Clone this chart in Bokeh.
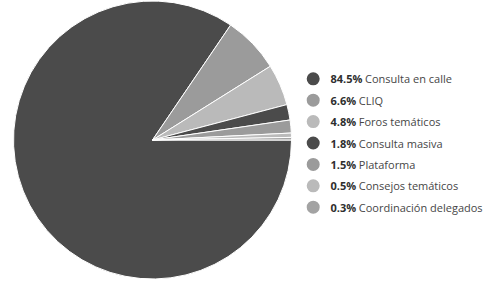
import math
from bokeh.plotting import figure
from bokeh.models import ColumnDataSource, Range1d
from bokeh.core.properties import value
from bokeh.embed import file_html
from bokeh.resources import INLINE

labels = ["Consulta en calle", "CLIQ", "Foros temáticos", "Consulta masiva",
          "Plataforma", "Consejos temáticos", "Coordinación delegados"]
values = [84.5, 6.6, 4.8, 1.8, 1.5, 0.5, 0.3]
colors = ["#4b4b4b", "#9b9b9b", "#bababa", "#4b4b4b", "#9b9b9b", "#bababa", "#a3a3a3"]
pct_labels = [f"{v:.1f}%" for v in values]

W, H = 493, 282
p = figure(width=W, height=H, output_backend="svg", toolbar_location=None,
           x_range=Range1d(0, W), y_range=Range1d(0, H), min_border=0)
p.axis.visible = False
p.grid.visible = False
p.outline_line_color = None
p.background_fill_color = "white"

total = sum(values)
starts, ends = [], []
acc = 0.0
for v in values:
    starts.append(-2 * math.pi * acc / total)
    acc += v
    ends.append(-2 * math.pi * acc / total)

cx, cy, r = 152, H - 139.5, 139
src = ColumnDataSource(dict(start=starts, end=ends, color=colors,
                            x=[cx] * len(values), y=[cy] * len(values)))
p.wedge(x="x", y="y", radius=r, start_angle="start", end_angle="end",
        direction="clock", fill_color="color", line_color="white",
        line_width=1, source=src)

# legend
bold_w = {c: 0.572 for c in "0123456789"}
bold_w.update({".": 0.293, "%": 0.873})
fs = 11
ly0 = H - 78.3
step = 21.4
lx = 312.7
tx = 330
ys = [ly0 - i * step for i in range(len(values))]
offs = [tx + sum(bold_w[c] for c in s) * fs + 0.26 * fs for s in pct_labels]
p.scatter(x=[lx] * len(values), y=ys, size=13, marker="circle",
          fill_color=colors, line_color=None)
p.text(x=[tx] * len(values), y=ys, text=pct_labels, text_font=value("Open Sans"),
       text_font_size=f"{fs}px", text_font_style="bold", text_color="#2e2e2e",
       text_baseline="middle")
p.text(x=offs, y=ys, text=labels, text_font=value("Open Sans"),
       text_font_size=f"{fs}px", text_color="#464646", text_baseline="middle")

open("out.html", "w").write(file_html(p, INLINE))
